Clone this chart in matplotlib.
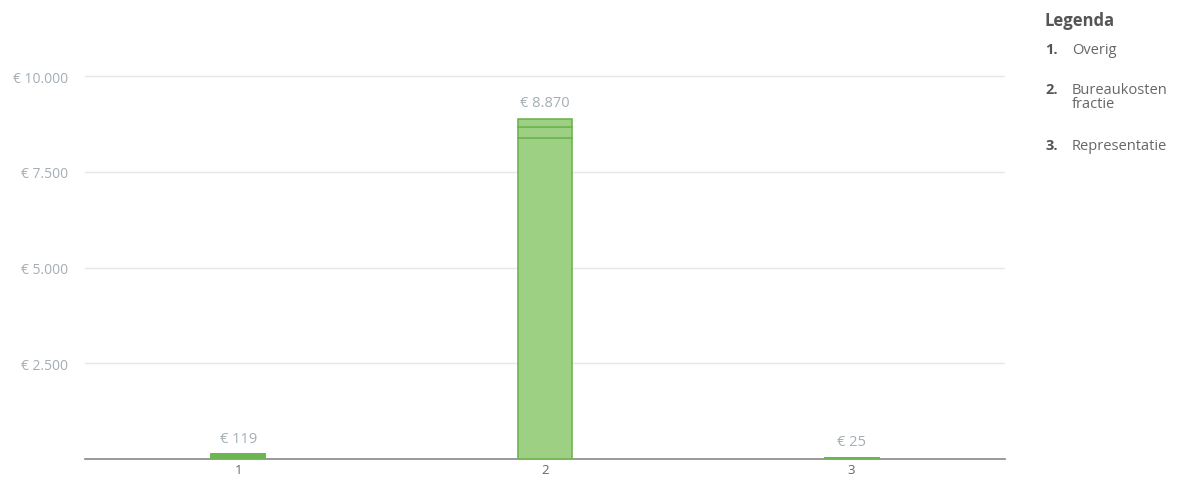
import matplotlib
matplotlib.use("Agg")
import matplotlib.pyplot as plt

categories = ["1", "2", "3"]
legend_numbers = ["1.", "2.", "3."]
legend_lines = [["Overig"], ["Bureaukosten", "fractie"], ["Representatie"]]
# stacked segments per category
seg_bottom = [119, 8380, 25]
seg_mid = [0, 300, 0]
seg_top = [0, 190, 0]
totals = [119, 8870, 25]
yticks = [2500, 5000, 7500, 10000]
ytick_labels = ["€ 2.500", "€ 5.000", "€ 7.500", "€ 10.000"]

plt.rcParams['font.family'] = ['Open Sans', 'DejaVu Sans']

fig = plt.figure(figsize=(11.85, 4.81), dpi=100)
ax = fig.add_axes([85/1185, 1-460/481, 920/1185, 421.3/481])

x = [1, 2, 3]
fill = "#9dd083"
edge = "#6db552"
w = 0.176
ax.bar(x, seg_bottom, width=w, color=fill, edgecolor=edge, linewidth=1.2, zorder=3)
ax.bar(x, seg_mid, bottom=seg_bottom, width=w, color=fill, edgecolor=edge, linewidth=1.2, zorder=3)
bot3 = [a + b for a, b in zip(seg_bottom, seg_mid)]
ax.bar(x, seg_top, bottom=bot3, width=w, color=fill, edgecolor=edge, linewidth=1.2, zorder=3)
# small bars appear solid darker
for xi, t in zip(x, totals):
    if t < 500:
        ax.bar([xi], [t], width=w, color=edge, edgecolor=edge, linewidth=1.2, zorder=4)

for xi, t in zip(x, totals):
    lbl = "€ " + f"{t:,}".replace(",", ".")
    ax.text(xi, t + 230, lbl, ha="center", va="bottom", color="#a3aeb5", fontsize=10.5)

ax.set_xlim(0.5, 3.5)
ax.set_ylim(0, 11000)
ax.set_xticks(x)
ax.set_xticklabels(categories)
ax.set_yticks(yticks)
ax.set_yticklabels(ytick_labels)
ax.tick_params(axis="y", length=0, colors="#a3aeb5", labelsize=10, pad=12)
ax.tick_params(axis="x", length=0, colors="#666666", labelsize=9.5, pad=3)
ax.grid(axis="y", color="#e6e6e6", linewidth=1, zorder=0)
for s in ["top", "right", "left"]:
    ax.spines[s].set_visible(False)
ax.spines["bottom"].set_color("#888888")
ax.spines["bottom"].set_linewidth(1.2)

# legend
fig.text(1045/1185, 1-21/481, "Legenda", fontsize=12, fontweight="bold", color="#555555", va="center", ha="left")
ys = [50, 90, 146]
for yy, num, lines in zip(ys, legend_numbers, legend_lines):
    fig.text(1045/1185, 1-yy/481, num, fontsize=10.5, fontweight="bold", color="#555555", va="center", ha="left")
    for k, line in enumerate(lines):
        fig.text(1072/1185, 1-(yy + 14*k)/481, line, fontsize=10.5, color="#666666", va="center", ha="left")

fig.savefig("out.png", dpi=100)
